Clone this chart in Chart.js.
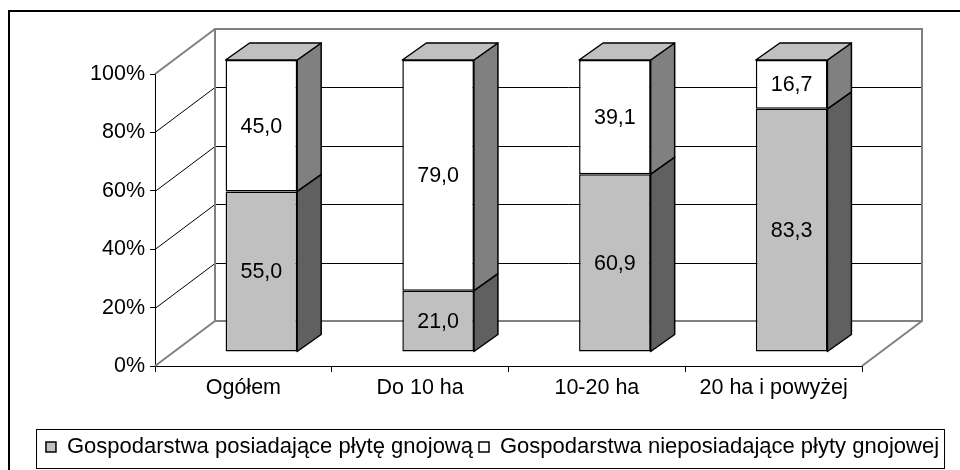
<!DOCTYPE html>
<html>
<head>
<meta charset="utf-8">
<script src="https://cdn.jsdelivr.net/npm/chart.js@4.4.1/dist/chart.umd.min.js"></script>
<style>
    html, body { margin: 0; padding: 0; background: #fff; }
    #wrap { width: 960px; height: 470px; }
</style>
</head>
<body>
<div id="wrap"><canvas id="chart" width="960" height="470"></canvas></div>
<script>
    // data
    var categories = ['Ogółem', 'Do 10 ha', '10-20 ha', '20 ha i powyżej'];
    var withSlab = [55.0, 21.0, 60.9, 83.3];
    var withoutSlab = [45.0, 79.0, 39.1, 16.7];
    var seriesNames = ['Gospodarstwa posiadające płytę gnojową', 'Gospodarstwa nieposiadające płyty gnojowej'];
    var yTicks = [0, 20, 40, 60, 80, 100];

    // fake 3D offsets (pixels)
    var SHIFT = {x: 18, y: -14};   // bars sit a bit behind the front axes
    var DEPTH = {x: 24, y: -17};   // thickness of a bar
    var WALL = {x: 60, y: -45};    // back wall
    var FONT = {family: '"Liberation Sans", Arial, sans-serif', size: 21.5};
    var LEGEND_FONT = {family: FONT.family, size: 22};
    var sideColors = ['#606060', '#808080'];

    function line(ctx, x1, y1, x2, y2) {
        ctx.beginPath();
        ctx.moveTo(x1, y1);
        ctx.lineTo(x2, y2);
        ctx.stroke();
    }

    function poly(ctx, pts, fill) {
        ctx.beginPath();
        ctx.moveTo(pts[0][0], pts[0][1]);
        for (var i = 1; i < pts.length; i++) ctx.lineTo(pts[i][0], pts[i][1]);
        ctx.closePath();
        ctx.fillStyle = fill;
        ctx.fill();
        ctx.stroke();
    }

    var fake3d = {
        id: 'fake3d',
        beforeDraw: function (chart) {
            var ctx = chart.ctx;
            ctx.save();
            ctx.fillStyle = '#fff';
            ctx.fillRect(0, 0, chart.width, chart.height);
            // outer frame, runs off the right and bottom edge
            ctx.fillStyle = '#000';
            ctx.fillRect(8, 10, chart.width - 8, 2);
            ctx.fillRect(8, 10, 2, chart.height - 10);
            ctx.restore();
        },
        beforeDatasetsDraw: function (chart) {
            var ctx = chart.ctx, a = chart.chartArea, y = chart.scales.y;
            var top = y.getPixelForValue(100), bot = y.getPixelForValue(0);
            ctx.save();
            ctx.lineWidth = 1;
            ctx.strokeStyle = '#000';
            yTicks.forEach(function (v) {
                if (v === 0 || v === 100) return;
                var py = Math.round(y.getPixelForValue(v)) + 0.5;
                line(ctx, a.left, py, a.left + WALL.x, py + WALL.y);
                line(ctx, a.left + WALL.x, py + WALL.y, a.right + WALL.x, py + WALL.y);
            });
            ctx.strokeStyle = '#808080';
            ctx.lineWidth = 2;
            line(ctx, a.left, top, a.left + WALL.x, top + WALL.y);
            line(ctx, a.left, bot, a.left + WALL.x, bot + WALL.y);
            line(ctx, a.right, bot, a.right + WALL.x, bot + WALL.y);
            ctx.strokeRect(a.left + WALL.x, top + WALL.y, a.right - a.left, bot - top);
            ctx.restore();

            // bars are drawn in the plane behind the axes
            ctx.save();
            ctx.translate(SHIFT.x, SHIFT.y);
        },
        afterDatasetsDraw: function (chart) {
            var ctx = chart.ctx;
            var last = chart.data.datasets.length - 1;
            ctx.lineWidth = 1.5;
            ctx.strokeStyle = '#000';
            ctx.lineJoin = 'round';
            chart.data.datasets.forEach(function (ds, di) {
                chart.getDatasetMeta(di).data.forEach(function (bar) {
                    var l = bar.x - bar.width / 2, r = bar.x + bar.width / 2;
                    poly(ctx, [[r, bar.y], [r + DEPTH.x, bar.y + DEPTH.y],
                        [r + DEPTH.x, bar.base + DEPTH.y], [r, bar.base]], sideColors[di]);
                    if (di === last) {
                        poly(ctx, [[l, bar.y], [l + DEPTH.x, bar.y + DEPTH.y],
                            [r + DEPTH.x, bar.y + DEPTH.y], [r, bar.y]], '#C0C0C0');
                    }
                });
            });
            // value labels
            ctx.fillStyle = '#000';
            ctx.font = FONT.size + 'px ' + FONT.family;
            ctx.textAlign = 'center';
            ctx.textBaseline = 'middle';
            chart.data.datasets.forEach(function (ds, di) {
                chart.getDatasetMeta(di).data.forEach(function (bar, i) {
                    var txt = ds.data[i].toFixed(1).replace('.', ',');
                    ctx.fillText(txt, bar.x, (bar.y + bar.base) / 2 + 1);
                });
            });
            ctx.restore();
        },
        afterDraw: function (chart) {
            var lg = chart.legend, ctx = chart.ctx;
            if (!lg || !lg.legendHitBoxes.length) return;
            var minL = Infinity, maxR = -Infinity;
            lg.legendHitBoxes.forEach(function (hb) {
                minL = Math.min(minL, hb.left);
                maxR = Math.max(maxR, hb.left + hb.width);
            });
            ctx.save();
            ctx.strokeStyle = '#000';
            ctx.lineWidth = 1;
            ctx.strokeRect(Math.round(minL) - 9.5, Math.round(lg.top) - 0.5, Math.round(maxR - minL) + 15, 39);
            ctx.restore();
        }
    };

    new Chart(document.getElementById('chart'), {
        type: 'bar',
        data: {
            labels: categories,
            datasets: [{
                label: seriesNames[0],
                data: withSlab,
                backgroundColor: '#C0C0C0',
                borderColor: '#000',
                borderWidth: 1.5,
                borderSkipped: false,
                clip: false
            }, {
                label: seriesNames[1],
                data: withoutSlab,
                backgroundColor: '#FFFFFF',
                borderColor: '#000',
                borderWidth: 1.5,
                borderSkipped: false,
                clip: false
            }]
        },
        options: {
            responsive: false,
            animation: false,
            devicePixelRatio: 1,
            layout: {padding: {left: 30, right: 5, top: 74, bottom: 2}},
            datasets: {bar: {categoryPercentage: 0.405, barPercentage: 1}},
            scales: {
                x: {
                    stacked: true,
                    grid: {offset: true, drawOnChartArea: false, tickLength: 6, color: '#000'},
                    border: {color: '#000', width: 1},
                    ticks: {color: '#000', font: FONT, padding: 3, maxRotation: 0, autoSkip: false},
                    afterFit: function (s) { s.height = 64; }
                },
                y: {
                    stacked: true,
                    min: 0,
                    max: 100,
                    grid: {drawOnChartArea: false, tickLength: 5, color: '#000'},
                    border: {color: '#000', width: 1},
                    ticks: {
                        color: '#000', font: FONT, padding: 5,
                        callback: function (v) { return v + '%'; }
                    },
                    afterBuildTicks: function (s) {
                        s.ticks = yTicks.map(function (v) { return {value: v}; });
                    },
                    afterFit: function (s) { s.width = 125; }
                },
                // empty axis that only keeps the room right of the plot
                y2: {
                    position: 'right',
                    display: true,
                    grid: {display: false},
                    border: {display: false},
                    ticks: {display: false},
                    afterFit: function (s) { s.width = 93; }
                }
            },
            plugins: {
                legend: {
                    position: 'bottom',
                    labels: {color: '#000', font: LEGEND_FONT, boxWidth: 10, boxHeight: 10, padding: 6}
                },
                tooltip: {enabled: false}
            }
        },
        plugins: [fake3d]
    });
</script>
</body>
</html>
